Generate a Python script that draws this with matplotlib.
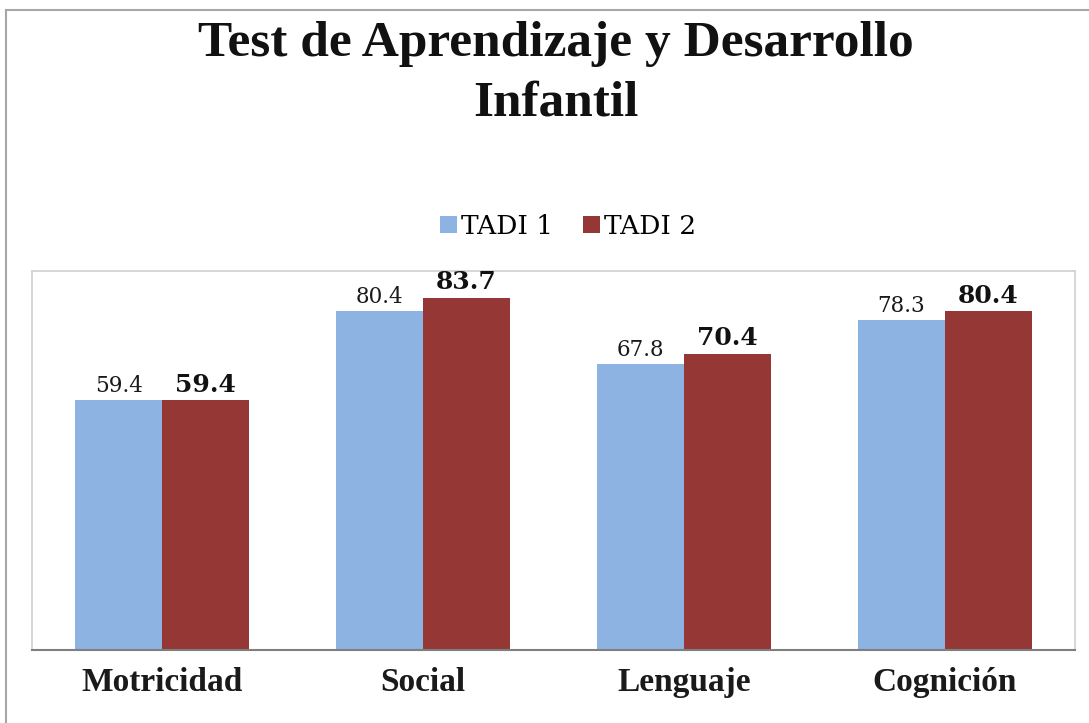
import matplotlib
matplotlib.use("Agg")
import matplotlib.pyplot as plt
from matplotlib.lines import Line2D
import numpy as np

categories = ["Motricidad", "Social", "Lenguaje", "Cognición"]
tadi1 = [59.4, 80.4, 67.8, 78.3]
tadi2 = [59.4, 83.7, 70.4, 80.4]
series_names = ["TADI 1", "TADI 2"]
title_lines = ["Test de Aprendizaje y Desarrollo", "Infantil"]

c1 = "#8DB3E2"
c2 = "#953735"
W, H = 1089, 723
serif = ["Liberation Serif", "DejaVu Serif"]
serif2 = ["DejaVu Serif"]

fig = plt.figure(figsize=(W / 100, H / 100), dpi=100)
fig.patch.set_facecolor("white")

# outer chart frame (top and left visible)
fig.add_artist(Line2D([6 / W, 6 / W], [0, 1 - 10 / H], transform=fig.transFigure, color="#A6A6A6", lw=1.5))
fig.add_artist(Line2D([6 / W, 1], [1 - 10 / H, 1 - 10 / H], transform=fig.transFigure, color="#A6A6A6", lw=1.5))

left, right, top, bottom = 32, 1075, 271, 650
ax = fig.add_axes([left / W, 1 - bottom / H, (right - left) / W, (bottom - top) / H])
x = np.arange(len(categories))
bw = 1 / 3
b1 = ax.bar(x - bw / 2, tadi1, bw, color=c1, label=series_names[0])
b2 = ax.bar(x + bw / 2, tadi2, bw, color=c2, label=series_names[1])
ax.set_xlim(-0.5, len(categories) - 0.5)
ax.set_ylim(0, 90)
ax.set_yticks([])
ax.set_xticks(x)
ax.set_xticklabels(categories, fontfamily=serif, fontweight="bold", fontsize=24, color="#1a1a1a")
ax.tick_params(axis="x", length=0, pad=12)
for s in ["left", "top", "right"]:
    ax.spines[s].set_color("#D0D0D0")
    ax.spines[s].set_linewidth(1.2)
ax.spines["bottom"].set_color("#7F7F7F")
ax.spines["bottom"].set_linewidth(1.5)

for xi, v in zip(x, tadi1):
    ax.annotate(f"{v:.1f}", (xi - bw / 2, v), xytext=(0, 5.8), textcoords="offset points",
                ha="center", va="baseline", fontfamily=serif2, fontsize=15.5, color="#1a1a1a")
for xi, v in zip(x, tadi2):
    ax.annotate(f"{v:.1f}", (xi + bw / 2, v), xytext=(0, 5.8), textcoords="offset points",
                ha="center", va="baseline", fontfamily=serif2, fontsize=18, fontweight="bold", color="#111111")

fig.text(556 / W, 1 - 56 / H, title_lines[0], ha="center", va="baseline", fontfamily=serif,
         fontweight="bold", fontsize=37, color="#111111")
fig.text(556 / W, 1 - 115 / H, title_lines[1], ha="center", va="baseline", fontfamily=serif,
         fontweight="bold", fontsize=37, color="#111111")

leg = fig.legend(handles=[b1, b2], labels=series_names, loc="center", bbox_to_anchor=(568 / W, 1 - 226 / H),
                 ncol=2, frameon=False, prop={"family": serif2, "size": 19},
                 handlelength=0.65, handleheight=0.6, handletextpad=0.15, columnspacing=1.15)

fig.savefig("out.png", dpi=100, facecolor="white")
